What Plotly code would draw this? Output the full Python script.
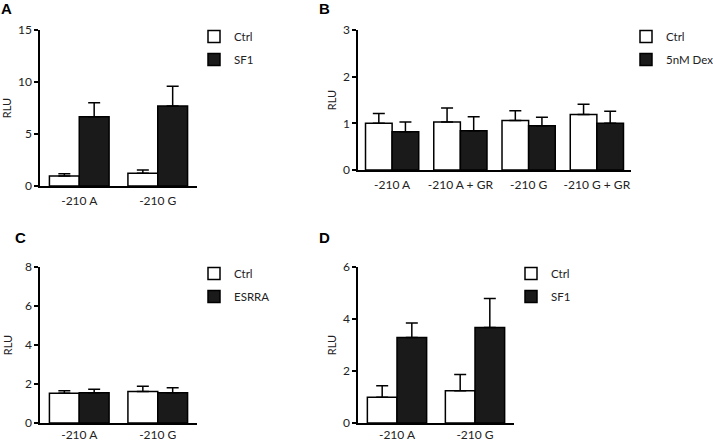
import plotly.graph_objects as go

# ---- data ----
cats_A = ["-210 A", "-210 G"]
ctrl_A = [0.96, 1.22]
ctrl_A_err = [0.22, 0.32]
sf1_A = [6.66, 7.69]
sf1_A_err = [1.34, 1.91]

cats_B = ["-210 A", "-210 A + GR", "-210 G", "-210 G + GR"]
ctrl_B = [1.00, 1.03, 1.06, 1.19]
ctrl_B_err = [0.21, 0.30, 0.21, 0.22]
dex_B = [0.82, 0.84, 0.95, 1.00]
dex_B_err = [0.21, 0.30, 0.18, 0.26]

cats_C = ["-210 A", "-210 G"]
ctrl_C = [1.52, 1.62]
ctrl_C_err = [0.14, 0.26]
esrra_C = [1.55, 1.55]
esrra_C_err = [0.18, 0.26]

cats_D = ["-210 A", "-210 G"]
ctrl_D = [0.99, 1.24]
ctrl_D_err = [0.44, 0.63]
sf1_D = [3.29, 3.67]
sf1_D_err = [0.56, 1.12]

W, H = 713, 444
FONT = "Lato"
TXT = "#222222"
BLACK = "#1a1a1a"

fig = go.Figure()

def px_x(p):
    return p / W

def px_y(p):
    return 1 - p / H

panels = [
    # name, xaxis, yaxis, legend, cats, series, xdom(px), ydom(px top,bottom), ymax, dtick, barw,
    # title standoff, legend x, ticklabel standoff
    ("A", "x", "y", "legend", cats_A,
     [("Ctrl", ctrl_A, ctrl_A_err, "white"), ("SF1", sf1_A, sf1_A_err, BLACK)],
     (40, 197), (30, 186), 15, 5, 0.38, 10, 194, 3),
    ("B", "x2", "y2", "legend2", cats_B,
     [("Ctrl", ctrl_B, ctrl_B_err, "white"), ("5nM Dex", dex_B, dex_B_err, BLACK)],
     (358, 631), (30, 170), 3, 1, 0.39, 4, 626, 3),
    ("C", "x3", "y3", "legend3", cats_C,
     [("Ctrl", ctrl_C, ctrl_C_err, "white"), ("ESRRA", esrra_C, esrra_C_err, BLACK)],
     (40, 197), (267, 423), 8, 2, 0.38, 10, 194, 0),
    ("D", "x4", "y4", "legend4", cats_D,
     [("Ctrl", ctrl_D, ctrl_D_err, "white"), ("SF1", sf1_D, sf1_D_err, BLACK)],
     (358, 514), (267, 423), 6, 2, 0.38, 4, 511, 0),
]

layout_axes = {}
legends = {}
for i, (name, xa, ya, lg, cats, series, xd, yd, ymax, dt, bw, so, lx, tso) in enumerate(panels):
    for j, (sname, vals, errs, col) in enumerate(series):
        fig.add_trace(go.Bar(
            x=cats, y=vals, name=sname, xaxis=xa, yaxis=ya, legend=lg,
            legendgroup=f"{name}{j}",
            width=bw, offset=(-bw if j == 0 else 0),
            marker=dict(color=col, line=dict(color="black", width=1.5)),
            error_y=dict(type="data", symmetric=False, array=errs,
                         arrayminus=[0] * len(errs), color="black",
                         thickness=1.5, width=6),
        ))
    sfx = "" if i == 0 else str(i + 1)
    layout_axes["xaxis" + sfx] = dict(
        domain=[px_x(xd[0]), px_x(xd[1])], anchor=ya,
        range=[-0.5, len(cats) - 0.5],
        showline=True, linecolor="black", linewidth=1.5, ticks="",
        ticklabelstandoff=tso,
        showgrid=False, zeroline=False,
        tickfont=dict(family=FONT, size=12, color=TXT),
    )
    layout_axes["yaxis" + sfx] = dict(
        domain=[px_y(yd[1]), px_y(yd[0])], anchor=xa,
        range=[0, ymax], dtick=dt, tick0=0,
        showline=True, linecolor="black", linewidth=1.5,
        ticks="outside", ticklen=4, tickwidth=1.5, tickcolor="black",
        showgrid=False, zeroline=False,
        tickfont=dict(family=FONT, size=12, color=TXT),
        title=dict(text="RLU", font=dict(family=FONT, size=11, color=TXT), standoff=so),
    )
    legends[lg] = dict(
        x=px_x(lx), xanchor="left",
        y=px_y(yd[0] - 8), yanchor="top",
        font=dict(family=FONT, size=11.5, color=TXT),
        bgcolor="rgba(0,0,0,0)", traceorder="grouped", tracegroupgap=4,
    )

annos = []
for lab, xp, yp in [("A", 6, 8), ("B", 324, 8), ("C", 20, 238), ("D", 324, 238)]:
    annos.append(dict(text=f"<b>{lab}</b>", x=px_x(xp), y=px_y(yp), xref="paper", yref="paper",
                      showarrow=False, xanchor="center", yanchor="middle",
                      font=dict(family="Liberation Sans", size=15, color="black")))

fig.update_layout(
    width=W, height=H, margin=dict(l=0, r=0, t=0, b=0, autoexpand=False),
    paper_bgcolor="white", plot_bgcolor="white",
    barmode="group",
    showlegend=True, annotations=annos,
    **layout_axes, **legends,
)

fig.write_html("out.html", config={"displayModeBar": False},
               post_script="document.body.style.margin='0';document.body.style.overflow='hidden';")
